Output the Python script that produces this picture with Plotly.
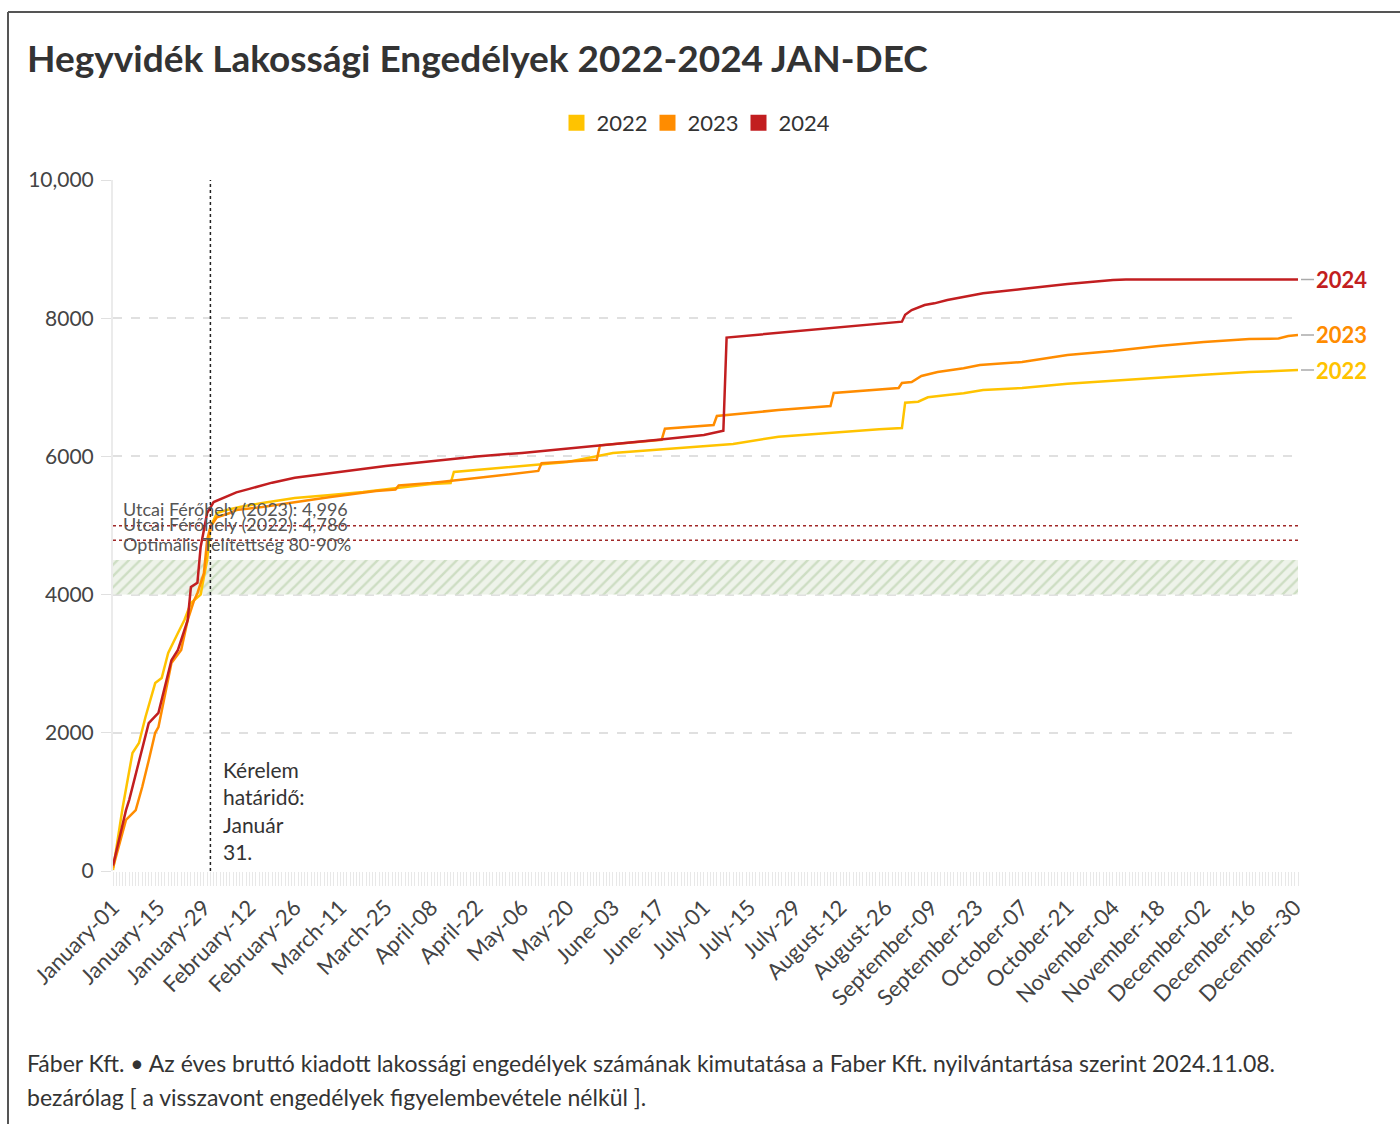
import plotly.graph_objects as go

# ---------------- data ----------------
dates_2022 = ["01-01","01-04","01-07","01-09","01-11","01-14","01-16","01-18","01-21","01-23","01-25","01-28","01-29","01-30","01-31",
              "02-02","02-05","02-09","02-16","02-26","03-08","03-18","04-08","04-14","04-15","05-06","05-20","06-03","06-17",
              "07-01","07-10","07-24","08-09","08-24","08-31","09-01","09-05","09-08","09-14","09-19","09-25","10-07","10-21",
              "11-04","11-18","12-02","12-16","12-31"]
vals_2022 = [15,926,1708,1852,2229,2720,2793,3155,3444,3632,3878,4000,4255,4500,4978,
             5180,5224,5268,5325,5398,5441,5485,5600,5615,5774,5860,5920,6050,6100,
             6155,6180,6285,6343,6392,6410,6777,6792,6855,6888,6913,6961,6990,7050,
             7100,7140,7180,7220,7250]

dates_2023 = ["01-01","01-05","01-08","01-10","01-12","01-14","01-15","01-18","01-19","01-22","01-24","01-26","01-27","01-29","01-30","01-31",
              "02-02","02-06","02-08","02-16","02-26","03-08","03-22","03-28","03-29","04-08","04-22","05-06","05-11","05-12","05-29","05-30",
              "06-18","06-19","07-04","07-05","07-24","08-09","08-10","08-30","08-31","09-03","09-06","09-11","09-16","09-19","09-24",
              "10-07","10-21","11-04","11-18","12-02","12-16","12-25","12-28","12-31"]
vals_2023 = [50,740,880,1215,1600,2000,2084,2760,3010,3200,3630,3920,4020,4310,4790,4980,
             5120,5180,5224,5268,5340,5412,5500,5520,5580,5615,5687,5760,5790,5900,5950,6160,
             6240,6400,6454,6585,6671,6730,6918,6990,7062,7077,7163,7221,7250,7275,7323,
             7366,7467,7525,7598,7655,7700,7705,7742,7757]

dates_2024 = ["01-01","01-03","01-05","01-06","01-12","01-15","01-19","01-21","01-24","01-25","01-27","01-28","01-30",
              "02-01","02-04","02-08","02-12","02-19","02-26","03-11","03-25","04-08","04-22","05-06","05-20","06-03","06-17",
              "07-01","07-07","07-08","07-15","07-24","08-09","08-20","08-31","09-01","09-03","09-07","09-10","09-14","09-19","09-25",
              "10-07","10-21","11-04","11-08","12-31"]
vals_2024 = [80,500,880,1030,2140,2290,3050,3200,3630,4110,4170,4690,5180,
             5340,5400,5480,5530,5620,5690,5780,5860,5930,6000,6050,6110,6180,6240,
             6310,6370,7720,7750,7790,7857,7900,7950,8050,8118,8190,8215,8263,8311,8360,
             8423,8495,8553,8560,8560]

years = ["2022", "2023", "2024"]
colors = {"2022": "#FFC300", "2023": "#FF8C00", "2024": "#C21E20"}
series = {"2022": (dates_2022, vals_2022), "2023": (dates_2023, vals_2023), "2024": (dates_2024, vals_2024)}

y_tickvals = [0, 2000, 4000, 6000, 8000, 10000]
y_ticktext = ["0", "2000", "4000", "6000", "8000", "10,000"]

capacity_2023 = 4996
capacity_2022 = 4786
optimal_band = (4000, 4500)
deadline = "01-31"

title = "Hegyvidék Lakossági Engedélyek 2022-2024 JAN-DEC"
footer1 = "Fáber Kft. • Az éves bruttó kiadott lakossági engedélyek számának kimutatása a Faber Kft. nyilvántartása szerint 2024.11.08."
footer2 = "bezárólag [ a visszavont engedélyek figyelembevétele nélkül ]."

# ---------------- layout geometry ----------------
W, H = 1400, 1124
L, R, T, B = 113, 102, 180, 253
PW, PH = W - L - R, H - T - B
def px(x): return (x - L) / PW
def py(y): return (H - B - y) / PH

FONT = "Lato, 'Noto Sans', sans-serif"
BASE = "2024-"
def d(s): return BASE + s

fig = go.Figure()

# optimal band (hatched)
fig.add_trace(go.Scatter(
    x=[d("01-01"), d("12-31"), d("12-31"), d("01-01"), d("01-01")],
    y=[optimal_band[0], optimal_band[0], optimal_band[1], optimal_band[1], optimal_band[0]],
    fill="toself", mode="lines", line=dict(width=0, color="rgba(0,0,0,0)"),
    fillcolor="rgba(225,235,218,0.6)",
    fillpattern=dict(shape="/", fgcolor="rgba(150,185,130,0.75)", bgcolor="#eef3ea", size=8, solidity=0.3),
    hoverinfo="skip", showlegend=False))

for yr in years:
    ds, vs = series[yr]
    fig.add_trace(go.Scatter(x=[d(s) for s in ds], y=vs, mode="lines", name=yr,
                             line=dict(color=colors[yr], width=2.5), legendgroup=yr, showlegend=False))
    fig.add_trace(go.Scatter(x=[None], y=[None], mode="markers", name=yr, legendgroup=yr,
                             marker=dict(symbol="square", size=20, color=colors[yr])))

shapes = []
for v in (capacity_2023, capacity_2022):
    shapes.append(dict(type="line", xref="paper", x0=0, x1=1, yref="y", y0=v, y1=v,
                       line=dict(color="#A02828", width=1.6, dash="dot")))
shapes.append(dict(type="line", xref="x", x0=d(deadline), x1=d(deadline), yref="paper", y0=0, y1=1,
                   line=dict(color="#222", width=1.5, dash="dot")))
# frame
shapes.append(dict(type="line", xref="paper", yref="paper", x0=px(8), x1=px(8), y0=py(12), y1=py(1124),
                   line=dict(color="#555", width=2)))
shapes.append(dict(type="line", xref="paper", yref="paper", x0=px(8), x1=px(1400), y0=py(12), y1=py(12),
                   line=dict(color="#555", width=2)))

ann = []
ann.append(dict(text=title, xref="paper", yref="paper", x=px(25), y=py(57), xanchor="left", yanchor="middle",
                showarrow=False, font=dict(family=FONT, size=37, color="#333", weight="bold")))
for txt, yy in ((f"Utcai Férőhely (2023): {capacity_2023:,}", 509), (f"Utcai Férőhely (2022): {capacity_2022:,}", 524),
                ("Optimális Telítettség 80-90%", 544)):
    ann.append(dict(text=txt, xref="paper", yref="paper", x=px(121), y=py(yy), xanchor="left", yanchor="middle",
                    showarrow=False, font=dict(family=FONT, size=18, color="#555")))
ann.append(dict(text="Kérelem<br>határidő:<br>Január<br>31.", xref="paper", yref="paper", x=px(221), y=py(810),
                xanchor="left", yanchor="middle", align="left", showarrow=False,
                font=dict(family=FONT, size=21, color="#333")))
for yr in years:
    ds, vs = series[yr]
    ann.append(dict(text=f"<b>{yr}</b>", xref="x", yref="y", x=d(ds[-1]), y=vs[-1], xanchor="left", yanchor="middle",
                    showarrow=True, arrowhead=0, arrowwidth=1.5, arrowcolor="#aaa", ax=16, ay=0, standoff=3,
                    font=dict(family=FONT, size=22, color=colors[yr])))
ann.append(dict(text=footer1, xref="paper", yref="paper", x=px(25), y=py(1063), xanchor="left", yanchor="middle",
                showarrow=False, font=dict(family=FONT, size=23, color="#333")))
ann.append(dict(text=footer2, xref="paper", yref="paper", x=px(25), y=py(1097), xanchor="left", yanchor="middle",
                showarrow=False, font=dict(family=FONT, size=23, color="#333")))

fig.update_layout(
    width=W, height=H, margin=dict(l=L, r=R, t=T, b=B, pad=0),
    paper_bgcolor="white", plot_bgcolor="white",
    font=dict(family=FONT, color="#444"),
    shapes=shapes, annotations=ann,
    legend=dict(orientation="h", x=px(693), y=py(123), xanchor="center", yanchor="middle",
                font=dict(family=FONT, size=22, color="#333"), itemwidth=30, entrywidth=46, entrywidthmode="pixels",
                bgcolor="rgba(0,0,0,0)"),
    xaxis=dict(type="date", range=[d("01-01"), d("12-31")], tick0=d("01-01"), dtick=14 * 86400000,
               tickformat="%B-%d", tickangle=-45, ticks="outside", ticklen=14, tickcolor="#e8e8e8", tickwidth=1,
               minor=dict(dtick=86400000, ticks="outside", ticklen=14, tickcolor="#e8e8e8", tickwidth=1, showgrid=False),
               showgrid=False, showline=False, zeroline=False,
               tickfont=dict(family=FONT, size=22, color="#444")),
    yaxis=dict(range=[0, 10000], tickvals=y_tickvals, ticktext=y_ticktext, showgrid=True, gridcolor="#e0e0e0",
               griddash="dash", gridwidth=2, showline=True, linecolor="#ebebeb", linewidth=2, ticks="outside",
               ticklen=10, tickcolor="#e0e0e0", zeroline=False, ticklabelstandoff=3,
               tickfont=dict(family=FONT, size=21, color="#444")),
    hovermode=False,
)

fig.write_html("out.html", post_script="document.body.style.margin='0';", config={"displayModeBar": False})
